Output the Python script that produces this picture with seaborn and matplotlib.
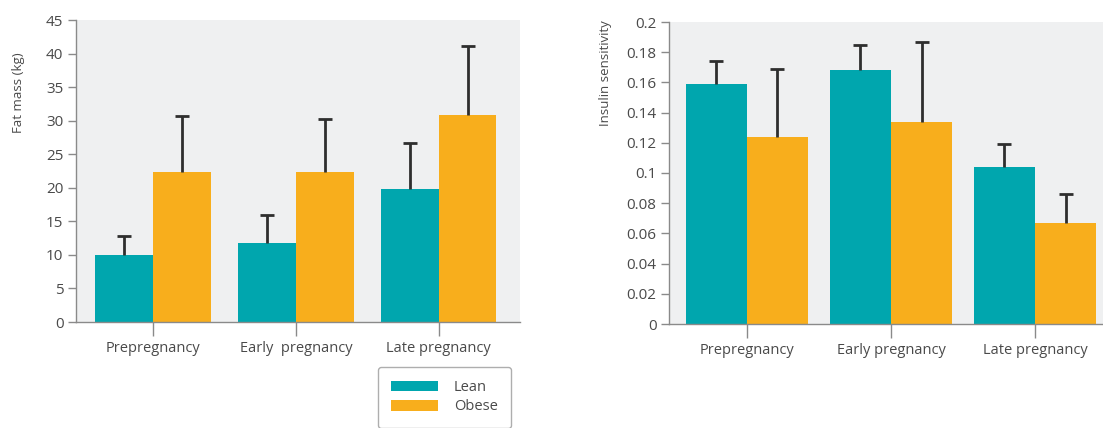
import pandas as pd
import seaborn as sns
import matplotlib.pyplot as plt
from matplotlib.patches import Patch

# data
stages = ['Prepregnancy', 'Early  pregnancy', 'Late pregnancy']
stages_right = ['Prepregnancy', 'Early pregnancy', 'Late pregnancy']
groups = ['Lean', 'Obese']

lean_fat = [10.0, 11.8, 19.8]
obese_fat = [22.4, 22.4, 30.8]
lean_fat_err = [2.8, 4.2, 6.9]
obese_fat_err = [8.3, 7.8, 10.3]

lean_ins = [0.159, 0.168, 0.104]
obese_ins = [0.124, 0.134, 0.067]
lean_ins_err = [0.015, 0.017, 0.015]
obese_ins_err = [0.045, 0.053, 0.019]

colors = {'Lean': '#00A6AE', 'Obese': '#F8AE1C'}
bg = '#EFF0F1'
spine_col = '#8A8A8A'
text_col = '#4A4A4A'

sns.set_style('white')
plt.rcParams['font.family'] = ['Open Sans', 'DejaVu Sans']


def make_df(labels, lean, obese):
    return pd.DataFrame({
        'stage': labels * 2,
        'group': ['Lean'] * 3 + ['Obese'] * 3,
        'value': lean + obese,
    })


def draw(ax, df, errs, width, ylim, yticks, ticklabels, ylabel, xlim, lab_xy):
    sns.barplot(data=df, x='stage', y='value', hue='group', palette=colors,
                width=width, gap=0, errorbar=None, ax=ax, legend=False,
                saturation=1, linewidth=0)
    for cont, err in zip(ax.containers, errs):
        for bar, e in zip(cont, err):
            xc = bar.get_x() + bar.get_width() / 2
            _, caps, _ = ax.errorbar(xc, bar.get_height(), yerr=[[0], [e]], fmt='none',
                                     ecolor='#2E2E2E', elinewidth=2, capsize=5,
                                     capthick=2, zorder=1)
            caps[0].set_visible(False)  # only the upper cap
    ax.set_facecolor(bg)
    ax.set_ylim(*ylim)
    ax.set_xlim(*xlim)
    ax.set_yticks(yticks)
    ax.set_yticklabels(ticklabels)
    ax.set_xlabel('')
    ax.set_ylabel(ylabel, fontsize=9.5, color=text_col)
    ax.yaxis.set_label_coords(*lab_xy)
    for s in ['top', 'right']:
        ax.spines[s].set_visible(False)
    for s in ['left', 'bottom']:
        ax.spines[s].set_color(spine_col)
        ax.spines[s].set_linewidth(1)
    ax.tick_params(axis='y', length=6, width=1, color=spine_col,
                   labelsize=11, labelcolor=text_col, pad=3, left=True)
    ax.tick_params(axis='x', length=10, width=1, color=spine_col,
                   labelsize=10.5, labelcolor=text_col, pad=4, bottom=True)


fig = plt.figure(figsize=(11.03, 4.28), dpi=100)
W, H = 1103, 428
ax1 = fig.add_axes([76 / W, (H - 322) / H, (520 - 76) / W, 302 / H])
ax2 = fig.add_axes([669 / W, (H - 324) / H, (1110 - 669) / W, 302 / H])

draw(ax1, make_df(stages, lean_fat, obese_fat), [lean_fat_err, obese_fat_err],
     0.81, (0, 45), range(0, 50, 5), [str(v) for v in range(0, 50, 5)],
     'Fat mass (kg)', (-0.54, 2.57), (-0.115, 0.76))

ins_ticks = [i * 0.02 for i in range(11)]
ins_labels = ['0', '0.02', '0.04', '0.06', '0.08', '0.1', '0.12', '0.14',
              '0.16', '0.18', '0.2']
draw(ax2, make_df(stages_right, lean_ins, obese_ins), [lean_ins_err, obese_ins_err],
     0.85, (0, 0.2), ins_ticks, ins_labels, 'Insulin sensitivity', (-0.54, 2.52),
     (-0.13, 0.83))

handles = [Patch(facecolor=colors[g], edgecolor='none', label=g) for g in groups]
leg = fig.legend(handles=handles, loc='upper left',
                 bbox_to_anchor=(378 / W, 1 - 367 / H), frameon=True,
                 fancybox=True, edgecolor='#9A9A9A', fontsize=10.5,
                 handlelength=3.2, handleheight=0.7, labelspacing=0.3,
                 borderpad=0.9, handletextpad=1.1, borderaxespad=0)
leg.get_frame().set_linewidth(1)
for t in leg.get_texts():
    t.set_color(text_col)

fig.savefig('out.png', dpi=100, facecolor='white')
